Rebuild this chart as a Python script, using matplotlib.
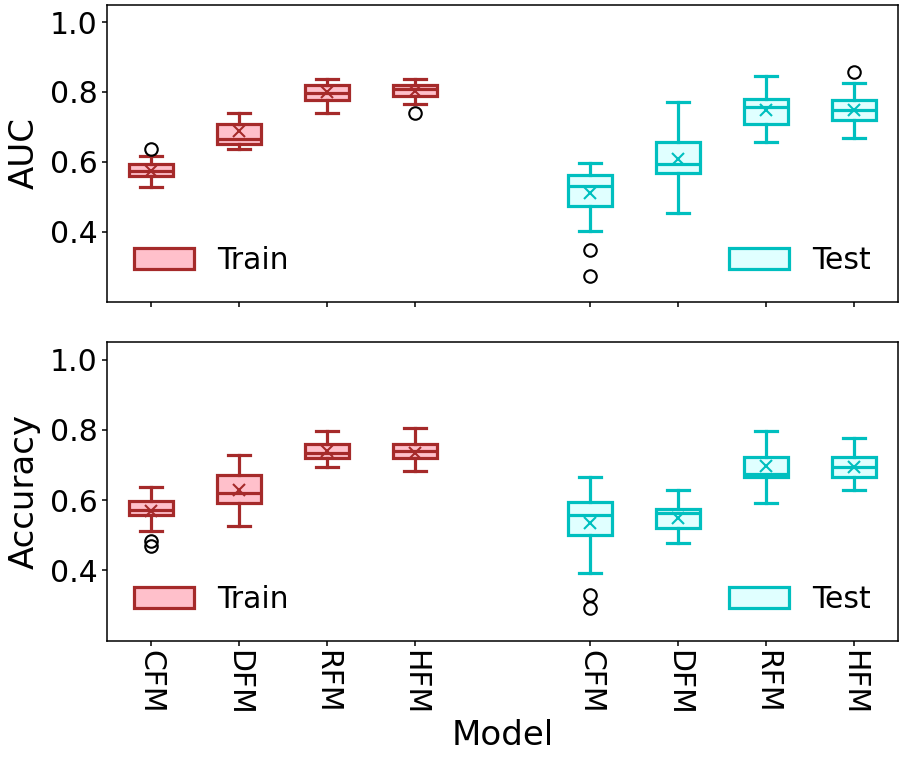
import matplotlib
matplotlib.use('Agg')
import matplotlib.pyplot as plt
import matplotlib.patches as mpatches

models = ['CFM', 'DFM', 'RFM', 'HFM']
train_pos = [1, 2, 3, 4]
test_pos = [6, 7, 8, 9]

# summary stats: whislo, q1, med, q3, whishi, mean, fliers
auc_train_whislo = [0.527, 0.636, 0.739, 0.766]
auc_train_q1 = [0.559, 0.652, 0.778, 0.789]
auc_train_med = [0.574, 0.666, 0.797, 0.807]
auc_train_q3 = [0.593, 0.707, 0.819, 0.820]
auc_train_whishi = [0.616, 0.740, 0.837, 0.837]
auc_train_mean = [0.575, 0.687, 0.800, 0.804]
auc_train_fliers = [[0.637], [], [], [0.739]]

auc_test_whislo = [0.402, 0.454, 0.656, 0.669]
auc_test_q1 = [0.475, 0.567, 0.709, 0.721]
auc_test_med = [0.530, 0.595, 0.757, 0.747]
auc_test_q3 = [0.561, 0.656, 0.780, 0.776]
auc_test_whishi = [0.597, 0.770, 0.845, 0.826]
auc_test_mean = [0.511, 0.609, 0.747, 0.749]
auc_test_fliers = [[0.347, 0.273], [], [], [0.857]]

acc_train_whislo = [0.512, 0.527, 0.695, 0.682]
acc_train_q1 = [0.558, 0.591, 0.720, 0.719]
acc_train_med = [0.571, 0.620, 0.733, 0.739]
acc_train_q3 = [0.598, 0.672, 0.760, 0.760]
acc_train_whishi = [0.638, 0.729, 0.798, 0.805]
acc_train_mean = [0.570, 0.629, 0.741, 0.735]
acc_train_fliers = [[0.484, 0.468], [], [], []]

acc_test_whislo = [0.393, 0.479, 0.591, 0.629]
acc_test_q1 = [0.501, 0.520, 0.665, 0.665]
acc_test_med = [0.558, 0.562, 0.674, 0.693]
acc_test_q3 = [0.596, 0.574, 0.724, 0.724]
acc_test_whishi = [0.667, 0.629, 0.798, 0.777]
acc_test_mean = [0.536, 0.549, 0.698, 0.693]
acc_test_fliers = [[0.331, 0.293], [], [], []]


def make_stats(lo, q1, med, q3, hi, mean, fl):
    return [dict(whislo=a, q1=b, med=c, q3=d, whishi=e, mean=f, fliers=g)
            for a, b, c, d, e, f, g in zip(lo, q1, med, q3, hi, mean, fl)]


def draw(ax, stats, pos, edge, face):
    lw = 2.3
    ax.bxp(stats, positions=pos, widths=0.5, patch_artist=True, showmeans=True,
           boxprops=dict(facecolor=face, edgecolor=edge, linewidth=lw),
           whiskerprops=dict(color=edge, linewidth=lw),
           capprops=dict(color=edge, linewidth=lw),
           medianprops=dict(color=edge, linewidth=lw),
           meanprops=dict(marker='x', markeredgecolor=edge, markersize=9,
                          markeredgewidth=1.5),
           flierprops=dict(marker='o', markerfacecolor='none',
                           markeredgecolor='black', markersize=9,
                           markeredgewidth=1.5))


train_edge, train_face = '#a52a2a', 'pink'
test_edge, test_face = '#00bfbf', 'lightcyan'
fs = 21.5
fs_lab = 24.5

fig = plt.figure(figsize=(9.02, 7.58), dpi=100)
ax1 = fig.add_axes([0.1186, 0.602, 0.877, 0.392])
ax2 = fig.add_axes([0.1186, 0.1548, 0.877, 0.394], sharex=ax1)

panels = [
    (ax1, 'AUC',
     make_stats(auc_train_whislo, auc_train_q1, auc_train_med, auc_train_q3,
                auc_train_whishi, auc_train_mean, auc_train_fliers),
     make_stats(auc_test_whislo, auc_test_q1, auc_test_med, auc_test_q3,
                auc_test_whishi, auc_test_mean, auc_test_fliers)),
    (ax2, 'Accuracy',
     make_stats(acc_train_whislo, acc_train_q1, acc_train_med, acc_train_q3,
                acc_train_whishi, acc_train_mean, acc_train_fliers),
     make_stats(acc_test_whislo, acc_test_q1, acc_test_med, acc_test_q3,
                acc_test_whishi, acc_test_mean, acc_test_fliers)),
]

for ax, label, tr, te in panels:
    draw(ax, tr, train_pos, train_edge, train_face)
    draw(ax, te, test_pos, test_edge, test_face)
    ax.set_ylim(0.2, 1.05)
    ax.set_yticks([0.4, 0.6, 0.8, 1.0])
    ax.set_xlim(0.5, 9.5)
    ax.set_ylabel(label, fontsize=fs_lab, labelpad=6)
    ax.tick_params(labelsize=fs, width=1.1)
    for s in ax.spines.values():
        s.set_linewidth(1.1)
    h_tr = mpatches.Patch(facecolor=train_face, edgecolor=train_edge, linewidth=2.3, label='Train')
    h_te = mpatches.Patch(facecolor=test_face, edgecolor=test_edge, linewidth=2.3, label='Test')
    leg1 = ax.legend(handles=[h_tr], loc='lower left', frameon=False, fontsize=fs)
    ax.add_artist(leg1)
    ax.legend(handles=[h_te], loc='lower right', frameon=False, fontsize=fs)

ax1.set_xticks(train_pos + test_pos)
ax1.tick_params(labelbottom=False)
ax2.set_xticks(train_pos + test_pos)
ax2.set_xticklabels(models + models, rotation=270, fontsize=fs)
ax2.set_xlabel('Model', fontsize=fs_lab, labelpad=2)

fig.savefig('out.png', dpi=100)
